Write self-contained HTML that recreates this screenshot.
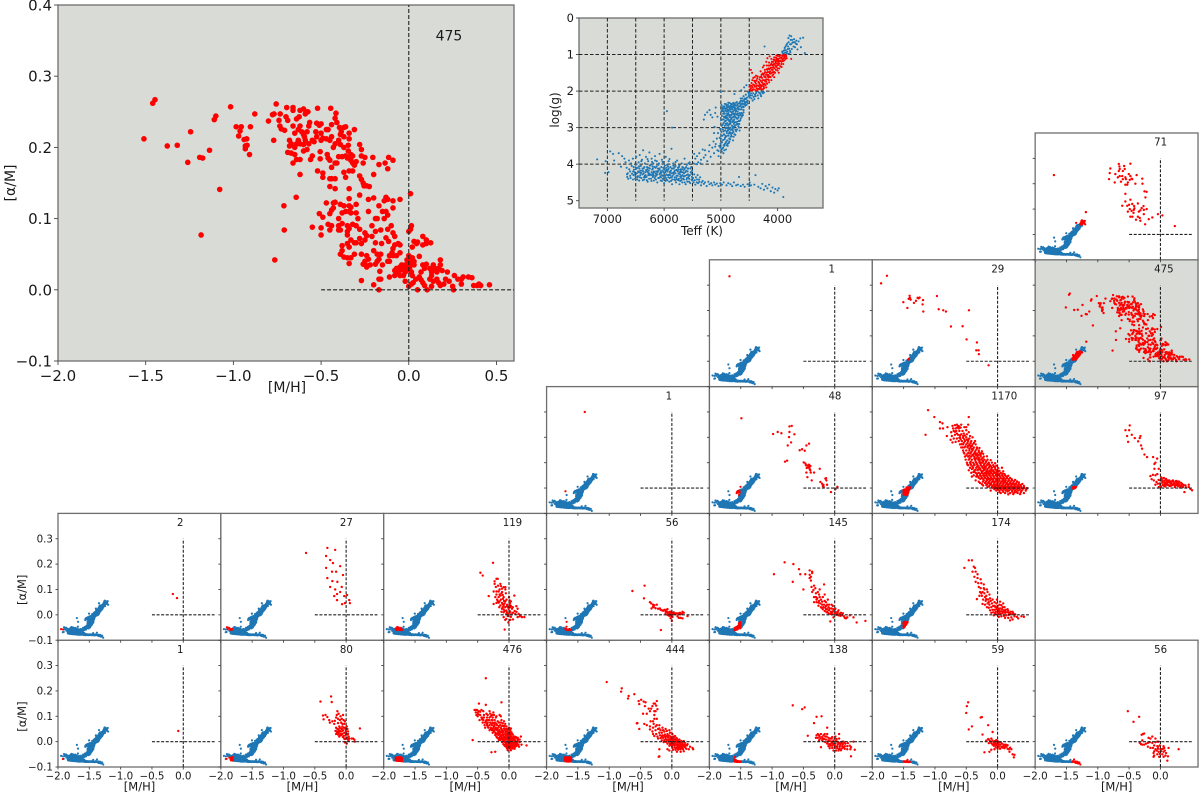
<!DOCTYPE html>
<html lang="en">
<head>
<meta charset="utf-8">
<title>Stellar abundance grid by Teff and log(g)</title>
<style>
html,body{margin:0;padding:0;background:#fff;}
svg{display:block;font-family:"DejaVu Sans","Liberation Sans",sans-serif;filter:blur(0.35px);}
</style>
</head>
<body>
<svg id="figure" width="1200" height="792" viewBox="0 0 1200 792" xmlns="http://www.w3.org/2000/svg"></svg>
<script>
// ---- Hertzsprung-Russell sample: [Teff (K), log(g)] ----
const hrDwarfs = [[7180,3.87],[7030,3.92],[7040,4.24],[6980,4.22],[6950,3.65],[6900,3.72],[6880,3.9],[6800,3.7],[6740,3.78],[6760,4.07],[6700,3.85],[6680,3.95],[6660,4.1],[6650,4.35],[6640,4.25],[6620,3.9],[6600,4.2],[6590,4.38],[6570,4.05],[6550,3.85],[6540,4.3],[6530,4.15],[6510,4.4],[6500,4.02],[6490,3.8],[6480,4.25],[6470,4.1],[6460,4.33],[6450,3.95],[6440,4.45],[6430,3.75],[6420,4.18],[6410,4.05],[6400,4.38],[6390,3.88],[6380,4.28],[6370,3.62],[6360,4.12],[6350,4.42],[6340,3.98],[6330,4.22],[6320,3.8],[6310,4.35],[6300,4.08],[6290,4.48],[6280,3.92],[6270,4.18],[6260,3.68],[6250,4.3],[6240,4.02],[6230,4.4],[6220,3.85],[6210,4.15],[6200,4.25],[6190,3.98],[6180,4.45],[6170,4.08],[6160,3.78],[6150,4.33],[6140,4.2],[6130,3.92],[6120,4.5],[6110,4.12],[6100,4.02],[6090,4.38],[6080,3.72],[6070,4.25],[6060,4.45],[6050,4.08],[6040,3.88],[6030,4.18],[6020,4.32],[6010,3.98],[6000,4.52],[5990,4.12],[5980,4.22],[5970,3.8],[5960,4.42],[5950,4.02],[5940,4.3],[5930,4.15],[5920,3.92],[5910,4.48],[5900,4.22],[5890,4.08],[5880,4.36],[5870,3.58],[5860,4.55],[5850,4.12],[5840,3.98],[5830,4.28],[5820,4.42],[5810,4.18],[5800,4.05],[5790,4.5],[5780,4.32],[5770,3.9],[5760,4.2],[5750,4.44],[5740,4.08],[5730,4.55],[5720,4.28],[5710,4.14],[5700,4.38],[5690,3.98],[5680,4.5],[5670,4.22],[5660,4.1],[5650,4.42],[5640,3.85],[5630,4.32],[5620,4.55],[5610,4.18],[5600,4.02],[5590,4.48],[5580,4.28],[5570,4.12],[5560,4.4],[5550,3.95],[5540,4.52],[5530,4.22],[5520,4.08],[5510,4.35],[5500,4.45],[6150,4.1],[6220,4.22],[6060,4.2],[5980,4.32],[5920,4.12],[6120,4.28],[6300,4.2],[6380,4.12],[5830,4.12],[5870,4.25],[5760,4.32],[5700,4.22],[6000,4.15],[6040,4.3],[6180,4.2],[6250,4.12],[5940,4.2],[5880,4.18],[5800,4.25],[5650,4.25],[5600,4.3],[6100,4.18],[6200,4.35],[6280,4.3],[6340,4.32],[6420,4.3],[5960,4.1],[5900,4.38],[5740,4.4],[5560,4.32]];
const hrDwarfsMore = [[6655,4.28],[6632,4.4],[6615,4.14],[6598,4.32],[6582,3.98],[6566,4.26],[6548,4.42],[6535,4.08],[6518,4.22],[6502,4.34],[6488,4.12],[6475,4.42],[6458,4.2],[6442,4.06],[6428,4.36],[6415,4.24],[6402,3.92],[6388,4.18],[6374,4.44],[6362,4.26],[6348,4.08],[6332,4.36],[6318,4.16],[6304,4.44],[6292,3.86],[6278,4.24],[6264,4.4],[6252,4.04],[6238,4.28],[6224,4.46],[6212,3.94],[6198,4.12],[6184,4.32],[6172,4.22],[6158,3.9],[6144,4.42],[6132,4.06],[6118,4.2],[6104,4.38],[6092,3.98],[6078,4.14],[6066,4.34],[6052,4.24],[6038,4.46],[6026,3.94],[6012,4.22],[5998,4.36],[5986,4.04],[5972,4.18],[5958,4.28],[5944,4.44],[5932,4.06],[5918,4.3],[5906,3.86],[5892,4.2],[5878,4.46],[5866,4.12],[5852,4.32],[5838,4.04],[5826,4.22],[5812,4.36],[5798,3.94],[5786,4.16],[5772,4.42],[5758,4.1],[5746,4.26],[5732,4.04],[5718,4.46],[5706,4.18],[5692,4.32],[5678,4.08],[5666,4.4],[5652,4.16],[5638,4.5],[5626,4.22],[5612,4.08],[5598,4.38],[5586,4.2],[5572,3.98],[5558,4.48],[5546,4.3],[5532,4.12],[5518,4.42],[5506,4.18],[6405,4.24],[6295,4.14],[6188,4.28],[6076,4.28],[5968,4.38],[5855,4.42],[5745,4.15],[5635,4.12],[6520,4.28],[6365,4.2],[6215,4.3],[6115,4.22],[6015,4.1],[5905,4.28],[5815,4.08],[5715,4.34],[5605,4.42],[6470,4.36],[6325,4.3],[6165,4.38],[6055,4.36],[5955,4.16],[5845,4.24],[5775,4.16],[5685,4.14],[5575,4.36],[6545,4.2],[6435,4.12],[6275,4.1],[6135,4.3],[5995,4.24],[5895,4.3],[5785,4.38],[5675,4.3],[6265,4.26],[6085,4.12],[5925,4.36],[5725,4.22],[5585,4.12],[6355,4.36],[6205,4.06],[6025,4.4],[5865,4.36],[5695,4.44],[6445,4.22],[6145,4.26],[5975,4.46],[5805,4.44],[5655,4.34],[5515,4.26],[5490,4.38],[5470,4.28],[5460,4.44],[5440,4.36],[5425,4.5],[5410,4.3],[5385,4.42],[5365,4.36],[5340,4.5]];
const hrDwarfTail = [[5480,4.5],[5450,4.56],[5420,4.42],[5400,4.52],[5380,4.48],[5350,4.58],[5320,4.46],[5300,4.54],[5280,4.5],[5250,4.6],[5220,4.48],[5200,4.55],[5170,4.52],[5150,4.58],[5120,4.5],[5100,4.56],[5070,4.53],[5040,4.6],[5010,4.52],[4980,4.56],[4950,4.5],[4900,4.58],[4870,4.52],[4830,4.55],[4800,4.6],[4770,4.5],[4730,4.58],[4700,4.56],[4680,4.35],[4650,4.6],[4610,4.56],[4580,4.62],[4530,4.55],[4500,4.6],[4490,4.5],[4470,4.58],[4410,4.56],[4390,4.3],[4340,4.62],[4300,4.66],[4270,4.54],[4240,4.7],[4210,4.6],[4180,4.66],[4150,4.56],[4120,4.74],[4090,4.64],[4060,4.78],[4040,4.68],[4000,4.72],[3980,4.66],[3900,4.9]];
const hrSubgiants = [[5470,3.72],[5450,3.85],[5420,3.78],[5400,3.95],[5380,3.7],[5350,3.88],[5320,3.6],[5300,3.82],[5270,3.75],[5240,3.92],[5210,3.65],[5180,3.8],[5150,3.55],[5120,3.7],[5090,3.45],[5060,3.62],[5040,3.78],[5020,3.5],[4990,3.6],[5480,3.98],[5430,4.0],[5360,3.98],[5280,3.62],[5200,3.48],[5130,3.38],[5100,3.52],[5070,3.3],[5050,3.15],[5120,3.15],[5110,2.98],[5180,2.65],[5200,2.52],[5240,2.58],[5280,2.65],[5300,2.78],[5150,2.72],[5100,2.6],[5090,2.45],[5060,2.7],[5950,2.55],[5860,3.0]];
const hrBranch = [[5010,3.55],[5000,3.3],[4990,3.12],[4985,2.95],[4980,3.4],[4975,2.78],[4970,3.22],[4965,3.05],[4960,2.62],[4955,2.88],[4950,3.48],[4945,3.18],[4940,2.72],[4935,3.32],[4930,2.95],[4925,3.08],[4920,2.82],[4915,3.42],[4910,3.25],[4905,2.68],[4900,3.0],[4895,3.15],[4890,2.88],[4885,3.35],[4880,2.75],[4875,3.08],[4870,2.95],[4865,3.22],[4860,2.65],[4855,2.82],[4850,3.38],[4845,3.12],[4840,3.0],[4835,2.72],[4830,2.9],[4825,3.25],[4820,2.78],[4815,3.05],[4810,2.65],[4805,2.95],[4800,3.15],[4795,2.85],[4790,2.72],[4785,3.35],[4780,3.02],[4775,2.62],[4770,2.9],[4765,2.78],[4760,3.18],[4755,2.68],[4750,2.95],[4740,2.85],[4730,3.1],[4720,2.75],[4710,2.65],[4700,2.9],[4690,2.72],[4680,3.0],[4670,2.82],[4660,2.65],[4650,2.75],[4640,2.6],[4960,3.55],[4940,3.62],[4910,3.6],[4880,3.5],[4990,2.55],[4970,2.52],[4930,2.62],[4890,2.62],[4850,2.7],[4950,2.78],[4900,2.8],[4860,2.92],[4830,3.15],[4790,3.08],[4920,3.22],[4880,3.22],[4840,2.82]];
const hrBranchMore = [[5030,3.5],[5020,3.28],[5012,3.04],[5005,3.44],[4998,2.8],[4992,3.22],[4982,2.68],[4976,3.58],[4968,2.92],[4962,3.34],[4952,3.1],[4946,2.7],[4938,3.5],[4932,2.84],[4926,3.28],[4918,3.02],[4912,2.74],[4904,3.38],[4898,2.92],[4892,3.1],[4884,2.66],[4878,3.44],[4872,3.02],[4866,2.78],[4858,3.16],[4852,3.3],[4846,2.88],[4838,2.66],[4832,3.06],[4826,2.84],[4818,3.2],[4812,2.74],[4804,3.06],[4798,2.62],[4792,2.96],[4784,2.8],[4778,3.12],[4772,2.7],[4764,2.98],[4758,2.86],[4752,2.62],[4744,3.06],[4736,2.72],[4728,2.92],[4722,2.64],[4714,2.84],[4706,2.76],[4698,2.62],[4692,2.96],[4684,2.68],[4676,2.9],[4668,2.6],[4658,2.8],[4648,2.66],[4632,2.7],[4622,2.62],[4612,2.66],[4600,2.58],[4925,2.7],[4895,2.72],[4865,2.6],[4835,2.8],[4805,2.72],[4775,2.82],[4745,2.72],[4715,2.9],[4685,2.82],[4945,2.62],[4915,2.9],[4885,3.02],[4855,3.04],[4825,2.66],[4795,3.0],[4765,2.64],[4735,2.62],[5040,3.64],[4985,3.66],[4955,3.7],[4930,3.45],[4895,3.48],[4860,3.42],[4835,3.32],[4810,3.24],[4775,3.25],[4745,3.2],[4715,3.05],[4670,3.08]];
const hrClump = [[4990,2.38],[4975,2.5],[4960,2.42],[4945,2.56],[4930,2.35],[4915,2.48],[4900,2.4],[4885,2.55],[4870,2.44],[4855,2.32],[4840,2.5],[4825,2.4],[4810,2.58],[4795,2.45],[4780,2.32],[4765,2.52],[4750,2.38],[4735,2.48],[4720,2.3],[4705,2.56],[4690,2.42],[4675,2.34],[4660,2.5],[4645,2.26],[4630,2.44],[4615,2.34],[4600,2.52],[4585,2.24],[4570,2.4],[4555,2.3],[4540,2.18],[4525,2.34],[4510,2.14],[4980,2.46],[4950,2.48],[4920,2.52],[4890,2.44],[4860,2.54],[4830,2.34],[4800,2.5],[4770,2.4],[4740,2.56],[4710,2.38],[4680,2.5],[4650,2.38],[4620,2.28],[4590,2.36],[4560,2.22],[4530,2.26],[4500,2.1],[4940,2.42],[4910,2.36],[4880,2.5],[4850,2.42],[4820,2.5],[4790,2.36],[4760,2.46],[4730,2.32],[4700,2.46],[4670,2.42],[4640,2.34],[4610,2.42],[4580,2.3],[4550,2.38],[4965,2.55],[4935,2.45],[4905,2.56],[4875,2.38],[4845,2.46],[4815,2.44],[4785,2.56],[4755,2.44],[4725,2.4],[4695,2.34],[4665,2.3],[4635,2.5],[4605,2.26],[4575,2.2],[4690,2.5],[4720,2.48],[4750,2.5],[4780,2.44],[4810,2.36],[4840,2.42],[4870,2.52],[4900,2.48],[4660,2.42],[4630,2.36],[4600,2.44],[4570,2.34],[4540,2.3],[4760,2.34],[4730,2.54],[4800,2.42],[4830,2.56],[4870,2.32],[4650,2.2],[4620,2.2],[4520,2.02],[4560,2.1],[4600,2.14],[4640,1.98],[4590,1.9],[4550,1.84],[4480,2.12],[4460,2.2],[4440,2.26],[4420,2.16],[4400,2.1],[4380,2.06],[4350,2.12],[4330,2.04],[4300,2.1],[4280,2.02],[4260,2.06],[5000,2.02],[4760,2.08]];
const hrGiants = [[4490,1.96],[4480,1.85],[4470,1.92],[4460,1.78],[4450,1.98],[4440,1.9],[4430,1.82],[4420,1.95],[4410,1.72],[4400,1.88],[4390,1.98],[4380,1.8],[4370,1.92],[4360,1.65],[4350,1.85],[4340,1.75],[4330,1.95],[4320,1.68],[4310,1.82],[4300,1.92],[4290,1.6],[4280,1.75],[4270,1.85],[4260,1.95],[4250,1.55],[4240,1.7],[4230,1.8],[4220,1.48],[4210,1.62],[4200,1.75],[4190,1.4],[4180,1.55],[4170,1.68],[4160,1.3],[4150,1.48],[4140,1.6],[4130,1.38],[4120,1.52],[4110,1.25],[4100,1.42],[4090,1.58],[4080,1.2],[4070,1.35],[4060,1.48],[4050,1.15],[4040,1.3],[4030,1.42],[4020,1.1],[4010,1.25],[4000,1.38],[3990,1.12],[3980,1.28],[3970,1.04],[3960,1.18],[3950,1.32],[3940,1.08],[3930,1.2],[3920,1.02],[3910,1.14],[3900,1.26],[3890,1.04],[3880,1.16],[3870,1.03],[3860,1.12],[3850,1.05],[3840,1.1],[4470,1.42],[4450,1.5],[4430,1.64],[4380,1.58],[4350,1.6],[4300,1.46],[4260,1.35],[4240,1.3],[4180,1.1],[4200,1.2],[4140,1.05],[4230,0.78],[3760,1.12],[4160,1.62],[4110,1.7],[4060,1.62],[3980,1.5],[4380,1.72],[4340,1.85],[4300,1.72],[4260,1.7],[4220,1.62],[4180,1.42],[4140,1.3],[4100,1.2],[4060,1.08],[4020,1.02],[3990,1.2],[4280,1.55],[4240,1.52],[4200,1.5],[4160,1.38],[4120,1.28],[4080,1.3],[4040,1.18],[4000,1.12]];
const hrGiantsMore = [[4495,1.88],[4475,1.98],[4455,1.86],[4435,1.96],[4415,1.84],[4395,1.76],[4375,1.86],[4365,1.98],[4345,1.94],[4325,1.78],[4315,1.9],[4295,1.84],[4285,1.96],[4275,1.64],[4265,1.78],[4245,1.88],[4235,1.6],[4225,1.72],[4215,1.84],[4205,1.56],[4195,1.68],[4185,1.8],[4175,1.48],[4165,1.56],[4155,1.7],[4145,1.4],[4135,1.52],[4125,1.62],[4115,1.36],[4105,1.5],[4095,1.28],[4085,1.42],[4075,1.54],[4065,1.26],[4055,1.38],[4045,1.5],[4035,1.22],[4025,1.34],[4015,1.14],[4005,1.3],[3995,1.04],[3985,1.16],[3975,1.24],[3965,1.1],[3955,1.02],[3945,1.16],[3935,1.26],[3925,1.1],[3915,1.04],[3905,1.18],[3895,1.1],[3875,1.08],[3855,1.02],[4310,1.62],[4265,1.52],[4225,1.42],[4190,1.3],[4150,1.22],[4110,1.12],[4070,1.14],[4030,1.08],[4445,1.7],[4405,1.62],[4370,1.7],[4330,1.86],[4290,1.88],[4250,1.82],[4210,1.7],[4170,1.6],[4130,1.46],[4090,1.36],[4050,1.26],[4010,1.18],[4320,1.94],[4240,1.92],[4200,1.9],[4150,1.76],[4080,1.48],[4000,1.44],[3970,1.38],[3930,1.34],[4510,2.06],[4490,2.18],[4470,2.06],[4450,2.12],[4430,2.06],[4410,2.22],[4390,2.14],[4370,2.02],[4340,2.2],[4310,2.06],[4290,2.14],[4270,2.02],[4240,2.04]];
const hrTip = [[3900,0.98],[3880,0.88],[3860,0.78],[3850,0.95],[3830,0.7],[3820,0.85],[3810,0.55],[3800,0.98],[3790,0.48],[3780,0.72],[3770,0.6],[3760,0.5],[3750,0.85],[3740,0.68],[3720,0.78],[3710,0.58],[3700,0.66],[3680,0.7],[3660,0.72],[3650,0.86],[3630,0.64],[3600,0.56],[3590,0.8],[3550,0.54],[3520,0.96],[3890,1.0],[3920,0.92],[3870,0.95],[3830,0.92],[3780,0.9],[3910,0.96],[3895,0.9],[3875,0.82],[3855,0.88],[3845,0.74],[3835,0.98],[3815,0.78],[3805,0.66],[3795,0.84],[3775,0.94],[3765,0.72],[3745,0.6],[3725,0.66],[3695,0.8],[3670,0.62]];
const hrSample = hrDwarfs.concat(hrDwarfsMore, hrDwarfTail, hrSubgiants, hrBranch, hrBranchMore, hrClump, hrGiants, hrGiantsMore, hrTip);

// ---- [M/H], [alpha/M] stars per Teff / log(g) bin ----
const stars475 = [[-1.51,.212],[-1.46,.262],[-1.447,.267],[-1.377,.202],[-1.32,.203],[-1.244,.222],[-1.26,.179],[-1.192,.186],[-1.175,.185],[-1.136,.196],[-1.109,.239],[-1.10,.244],[-1.078,.141],[-1.184,.077],[-1.016,.257],[-.984,.229],[-.955,.229],[-.962,.223],[-.97,.216],[-.939,.211],[-.924,.212],[-.932,.202],[-.922,.203],[-.932,.198],[-.908,.19],[-.903,.229],[-.878,.247],[-.80,.237],[-.777,.246],[-.768,.247],[-.756,.261],[-.733,.247],[-.696,.256],[-.70,.243],[-.69,.238],[-.74,.238],[-.735,.23],[-.727,.226],[-.708,.224],[-.77,.21],[-.764,.042],[-.712,.118],[-.71,.084],[-.642,.13],
[-.66,.256],[-.66,.252],[-.62,.252],[-.6,.254],[-.585,.25],[-.59,.247],[-.575,.25],[-.52,.255],[-.445,.255],[-.415,.248],[-.42,.241],[-.41,.235],[-.395,.228],[-.385,.222],[-.37,.228],[-.36,.229],[-.31,.225],[-.34,.22],[-.64,.24],[-.625,.243],[-.565,.235],[-.57,.23],[-.525,.234],[-.51,.231],[-.5,.233],[-.44,.232],[-.46,.225],[-.47,.225],[-.5,.22],[-.53,.222],[-.525,.215],[-.58,.222],[-.61,.222],[-.6,.218],[-.62,.23],[-.66,.23],[-.65,.22],[-.63,.225],[-.595,.215],[-.59,.21],[-.63,.21],[-.68,.21],[-.67,.205],[-.64,.205],[-.62,.205],[-.6,.204],[-.57,.205],[-.55,.21],[-.54,.208],[-.5,.21],[-.49,.213],[-.47,.212],[-.45,.21],[-.44,.215],[-.4,.21],[-.39,.218],[-.37,.215],[-.34,.212],[-.345,.203],[-.37,.2],[-.39,.204],[-.43,.2],[-.42,.205],[-.345,.195],[-.65,.2],[-.68,.202],[-.67,.192],[-.69,.193],[-.65,.19],[-.64,.183],[-.66,.178],[-.62,.183],[-.6,.195],[-.58,.197],[-.55,.188],[-.56,.183],[-.505,.194],[-.505,.184],[-.465,.19],[-.46,.185],[-.45,.182],[-.44,.172],[-.42,.178],[-.41,.178],[-.4,.187],[-.38,.187],[-.36,.188],[-.35,.185],[-.33,.19],[-.32,.188],[-.3,.18],[-.32,.178],[-.33,.182],[-.27,.188],[-.25,.186],[-.26,.178],[-.31,.175],[-.205,.186],[-.28,.204],[-.27,.197],[-.115,.186],[-.09,.182],[-.17,.176],[-.135,.178],[-.12,.17],[-.2,.162],[-.52,.167],[-.49,.164],[-.49,.158],[-.62,.162],[-.45,.156],[-.44,.156],[-.42,.156],[-.37,.165],[-.36,.158],[-.34,.167],[-.32,.167],[-.28,.16],[-.27,.155],[-.26,.15],[-.255,.146],[-.24,.146],[-.225,.145],[-.45,.145],[-.42,.142],[-.34,.142],[.01,.135],[-.34,.128],[-.28,.133],[-.23,.127],[-.2,.129],
[-.43,.122],[-.42,.123],[-.43,.115],[-.47,.122],[-.44,.112],[-.39,.12],[-.37,.118],[-.34,.118],[-.33,.116],[-.3,.12],[-.34,.11],[-.36,.11],[-.38,.108],[-.33,.108],[-.3,.108],[-.51,.107],[-.49,.102],[-.45,.107],[-.4,.1],[-.38,.093],[-.4,.09],[-.35,.09],[-.32,.092],[-.3,.09],[-.29,.1],[-.23,.11],[-.15,.11],[-.18,.1],[-.19,.1],[-.14,.1],[-.13,.11],[-.12,.105],[-.46,.092],[-.44,.09],[-.45,.084],[-.55,.088],[-.5,.087],[-.5,.077],[-.4,.084],[-.39,.084],[-.35,.082],[-.34,.086],[-.35,.077],[-.28,.085],[-.25,.08],[-.21,.09],[-.19,.082],[-.16,.084],[-.12,.085],[-.1,.09],[-.09,.08],[-.13,.073],[-.08,.075],[-.28,.072],[-.27,.065],[-.3,.066],[-.33,.07],[-.34,.06],[-.35,.065],[-.31,.066],[-.25,.07],[-.24,.076],[-.21,.075],[-.19,.066],[-.155,.065],[-.115,.068],[-.05,.063],[-.06,.065],[-.08,.063],[-.09,.058],[-.095,.052],[-.05,.052],[-.07,.048],[-.11,.048],[-.38,.062],[-.38,.055],[-.39,.05],[-.37,.046],[-.35,.045],[-.33,.045],[-.31,.05],[-.34,.037],[-.27,.05],[-.24,.048],[-.25,.04],[-.22,.035],[-.23,.043],[-.2,.055],[-.18,.05],[-.16,.05],[-.17,.043],[-.15,.035],[-.12,.04],[-.11,.04],[-.09,.048],[-.25,.036],[-.24,.032],[-.26,.036],[-.18,.04],[-.19,.036],[-.12,.127],[-.13,.13],[-.14,.125],[-.09,.125],[-.05,.127],[-.09,.115],[-.17,.118],[.01,.085],[0,.082],[.015,.09],
[-.17,0],[-.2,.007],[-.27,.013],[-.16,.015],[-.17,.015],[-.11,.018],[-.165,.026],[-.08,.02],[-.08,.027],[-.07,.03],[-.065,.024],[-.05,.032],[-.06,.025],[-.05,.02],[-.04,.028],[-.03,.03],[-.02,.025],[-.03,.02],[-.04,.035],[-.02,.035],[-.01,.032],[0,.04],[-.01,.042],[0,.048],[.01,.045],[.02,.045],[.03,.04],[.01,.035],[.005,.03],[.015,.025],[.03,.035],[-.02,.012],[0,.028],[.02,.02],[.04,.015],[.06,.047],[.06,.018],[.07,.025],[.08,.035],[.07,.014],[.1,.036],[.09,.03],[.12,.03],[.13,.025],[.14,.035],[.13,.02],[.15,.03],[.16,.025],[.14,.012],[.16,.015],[.17,.03],[.18,.035],[.18,.042],[.19,.027],[.12,.015],[.13,.005],[.08,.01],[.09,.006],[.105,0],[.05,0],[0,.005],[.015,.008],[.025,.01],[.17,.01],[.18,.006],[.2,.008],[.21,.015],[.22,.025],[.23,.012],[.25,.005],[.255,0],[.26,.02],[.28,.015],[.3,.015],[.31,.018],[.3,.008],[.34,.018],[.36,.017],[.37,.006],[.39,.006],[.4,.008],[.41,.006],[.46,.007],[.02,.06],[.05,.067],[.03,.068],[.045,.065],[.08,.075],[.1,.07],[.1,.065],[.125,.066],[.08,.063]];
const stars71 = [[-1.70,.234],[-1.19,.088],[.23,.033],[.03,.075],[-.04,.08],[-.13,.067],[-.186,.06],[-.245,.04],[-.32,.054],[-.265,.08],[-.22,.1],[-.265,.097],[-.30,.104],[-.36,.07],[-.345,.09],[-.425,.097],[-.48,.07],[-.447,.07],[-.53,.113],[-.61,.113],[-.56,.13],[-.48,.137],[-.45,.12],[-.415,.103],[-.49,.1],[-.56,.16],[-.24,.146],[-.255,.17],[-.22,.168],[-.287,.2],[-.29,.22],[-.38,.234],[-.4,.2],[-.45,.218],[-.48,.23],[-.49,.215],[-.53,.196],[-.56,.196],[-.55,.218],[-.505,.238],[-.56,.225],[-.57,.258],[-.48,.279],[-.6,.25],[-.65,.258],[-.665,.278],[-.655,.268],[-.665,.25],[-.72,.238],[-.73,.205],[-.8,.26],[-.81,.242],[-.82,.218],[-.65,.23],[-.61,.23],[-.68,.225],[-.63,.208],[-.52,.205],[-.6,.218],[-.58,.27],[-.5,.117],[-.43,.085],[-.39,.058],[-.36,.122],[-.32,.095],[-.52,.09],[-.46,.093],[-.33,.065],[-.42,.112],[-.27,.112],[-.46,.22]];
const stars29 = [[-1.86,.307],[-1.766,.337],[-1.505,.233],[-1.44,.21],[-1.404,.258],[-1.42,.246],[-1.388,.243],[-1.335,.23],[-1.303,.238],[-1.277,.25],[-1.245,.251],[-1.19,.241],[-1.197,.224],[-1.186,.196],[-.968,.257],[-.94,.205],[-.867,.201],[-.824,.196],[-.745,.137],[-.558,.138],[-.457,.201],[-.495,.086],[-.33,.074],[-.34,.043],[-.303,.043],[-.298,.028],[-.144,-.016],[-1.4,.25],[-1.26,.248]];
const stars48 = [[-1.49,.275],[-.984,.213],[-.91,.221],[-.851,.216],[-.723,.243],[-.686,.245],[-.723,.221],[-.729,.201],[-.644,.212],[-.697,.18],[-.75,.168],[-.559,.149],[-.521,.153],[-.479,.147],[-.452,.168],[-.41,.175],[-.793,.104],[-.76,.108],[-.495,.101],[-.468,.097],[-.441,.089],[-.415,.087],[-.388,.087],[-.404,.079],[-.399,.074],[-.447,.079],[-.452,.061],[-.436,.043],[-.383,.061],[-.33,.061],[-.239,.076],[-.367,.03],[-.229,.024],[-.202,.017],[-.149,.037],[-.133,.03],[-.122,.013],[-.176,.004],[-.059,-.016],[.011,-.005],[.043,.005],[-.138,.039],[-.19,.008],[-.42,.082],[-.39,.07],[-.41,.092],[-.46,.09],[-.18,.012]];
const stars97 = [[-.49,.247],[-.558,.228],[-.5,.228],[-.457,.21],[-.532,.205],[-.41,.197],[-.319,.205],[-.33,.197],[-.516,.182],[-.356,.184],[-.309,.168],[-.293,.155],[-.255,.132],[-.213,.122],[-.117,.122],[-.053,.116],[-.08,.1],[-.096,.095],[-.096,.076],[-.027,.076],[-.16,.047],[-.08,.05],[-.106,.03],[-.064,.024],[-.08,.013],[-.043,.017],[0,.03],[.027,.037],[.064,.03],[.096,.024],[.027,.021],[.053,.014],[.106,.013],[.133,.024],[.16,.017],[.186,.026],[.213,.017],[.24,.021],[.266,.013],[.293,.017],[.319,.01],[.346,.016],[.362,.004],[.383,-.016],[.452,.004],[.452,.013],[.505,-.009],[0,.01],[-.027,.004],[.012,.042],[.04,.012],[.075,.02],[.09,.036],[.12,.03],[.145,.008],[.17,.026],[.2,.03],[.225,.012],[.25,.028],[.28,.008],[.3,.025],[.33,.02],[.35,.006],[-.01,.018],[.01,.005],[.035,.026],[.055,.04],[.08,.006],[.11,.02],[.14,.03],[.19,.012],[.23,.004],[.27,.022],[.31,.002],[.4,.01],[-.12,.052],[-.05,.055],[.02,.03],[.06,.008],[.1,.03],[.125,.012],[.165,.008],[.21,.026],[.245,.01],[.28,.026],[.335,.008],[.41,.002],[.48,-.004],[-.14,.035],[-.03,.032],[.05,.025],[.085,.014],[.15,.022],[.175,.018],[.26,.018],[.3,.012],[.37,.012]];
const stars2 = [[-.166,.082],[-.10,.066]];
const stars27 = [[-.64,.244],[-.3,.264],[-.175,.256],[-.32,.232],[-.255,.216],[-.21,.204],[-.095,.192],[-.32,.185],[-.225,.17],[-.16,.17],[-.05,.157],[-.30,.145],[-.22,.133],[-.14,.13],[-.07,.11],[-.255,.11],[-.175,.1],[-.145,.082],[-.095,.09],[-.03,.074],[.015,.078],[.05,.058],[-.065,.042],[-.145,.058],[-.02,.046],[.06,.046],[-.19,.074]];
const stars119 = [[-.255,.205],[-.457,.166],[-.42,.155],[-.069,-.058],[-.2,.142],[-.18,.142],[-.23,.132],[-.229,.122],[-.138,.122],[-.128,.113],[-.085,.109],[-.058,.109],[-.112,.103],[-.058,.1],[-.245,.092],[-.2,.092],[-.165,.092],[-.324,.074],[.085,.076],[-.218,.07],[-.165,.07],[-.138,.076],[-.085,.07],[-.096,.063],[-.19,.06],[-.245,.043],[-.2,.047],[-.15,.053],[-.112,.047],[-.058,.053],[.01,.057],[.03,.053],[-.138,.037],[-.085,.037],[-.032,.034],[.01,.04],[-.112,.024],[-.085,.021],[-.043,.017],[-.005,.024],[.048,.024],[.117,.034],[.138,.024],[-.085,.01],[-.043,.004],[-.005,.004],[.021,.01],[.064,.008],[.1,.004],[.154,.004],[.18,-.003],[.207,-.009],[.245,-.009],[-.085,-.009],[-.043,-.016],[.064,-.018],[.138,-.009],[-.15,.08],[-.12,.085],[-.18,.055],[-.13,.06],[-.07,.045],[-.1,.03],[-.06,.03],[-.03,.04],[.02,.03],[-.07,.015],[-.03,.01],[.01,.015],[.04,.002],[-.02,-.005],[-.1,.042],[-.155,.03],[-.12,.012],[-.08,.055],[-.165,.048],[-.2,.08],[-.1,.078],[.03,.035],[.06,.03],[.09,.015],[-.05,.085],[-.11,.09],[-.15,.1],[-.175,.115],[-.21,.11],[.02,-.02],[.03,-.008],[.12,.012],[.17,-.006],[-.01,-.03],[-.06,-.02],[-.04,.06],[0,.07],[.015,.045],[-.015,.03]];
const stars56b = [[-.63,.094],[-.435,.115],[-.445,.065],[-.35,.05],[-.33,.045],[-.3,.04],[-.28,.038],[-.29,.03],[-.24,.04],[-.325,.025],[-.26,.026],[-.19,.025],[-.16,.018],[-.12,.02],[-.09,.02],[-.07,.022],[-.08,.012],[-.05,.01],[-.03,.012],[-.015,.007],[.015,.008],[0,0],[-.07,0],[-.05,-.003],[-.02,.004],[.02,.004],[.05,.006],[.08,.006],[.11,.006],[.14,.002],[.17,.012],[.16,.004],[.09,-.006],[.11,-.012],[.14,-.012],[.17,-.014],[.25,-.005],[-.175,-.06],[0,-.024],[-.02,-.013],[-.03,-.004],[.01,-.008],[-.1,.014],[-.14,.016],[-.18,.02],[-.22,.024],[-.3,.032],[-.04,.004],[-.01,-.003],[.03,.01],[.06,.002],[.19,.008],[.13,.008],[-.06,.006],[-.1,.006],[-.02,.012]];
const stars145 = [[-.97,.16],[-.8,.207],[-.66,.2],[-.57,.18],[-.55,.16],[-.47,.16],[-.4,.175],[-.36,.17],[-.4,.158],[-.36,.165],[-.67,.13],[-.5,.1],[-.38,.15],[-.4,.145],[-.38,.135],[-.33,.115],[-.31,.105],[-.37,.11],[-.3,.085],[-.36,.09],[-.19,.07],[-.3,.07],[-.28,.065],[-.25,.055],[-.22,.06],[-.29,.05],[-.26,.048],[-.23,.045],[-.2,.04],[-.16,.055],[-.11,.06],[-.14,.05],[-.17,.04],[-.14,.035],[-.12,.04],[-.1,.03],[-.08,.025],[-.05,.04],[-.03,.035],[-.15,.028],[-.12,.022],[-.09,.018],[-.06,.012],[-.03,.014],[0,.02],[.02,.01],[.05,.012],[.08,.004],[.1,.008],[.12,-.002],[.15,-.006],[.18,-.014],[.2,-.01],[.24,-.002],[.3,-.01],[.35,-.03],[.49,-.024],[-.07,-.026],[-.02,-.01],[0,.005],[.03,0],[-.05,.002],[-.27,.09],[-.29,.06],[-.33,.05],[-.24,.07],[-.26,.036],[-.21,.028],[-.19,.022],[-.16,.015],[-.13,.01],[-.1,.006],[-.07,.004],[-.12,.012],[.04,.006],[.06,-.002],[.09,.006],[.13,.006],[-.18,.03],[-.25,.08],[-.16,.08],[-.04,.008],[-.02,.022],[.01,.024],[.06,.018],[.09,-.004],[.16,-.012],[-.33,.07],[-.2,.052],[-.09,.04],[-.05,.025],[-.34,.098],[-.24,.1],[-.17,.12],[-.22,.03],[-.14,.022]];
const stars174 = [[-.46,.215],[-.41,.215],[-.53,.185],[-.38,.19],[-.36,.185],[-.4,.17],[-.35,.17],[-.32,.16],[-.37,.15],[-.32,.145],[-.27,.14],[-.35,.13],[-.31,.125],[-.26,.125],[-.22,.12],[-.3,.11],[-.27,.105],[-.22,.105],[-.17,.1],[-.28,.09],[-.24,.09],[-.21,.085],[-.16,.09],[-.25,.075],[-.2,.07],[-.18,.075],[-.13,.08],[-.33,.062],[-.23,.06],[-.19,.055],[-.15,.06],[-.11,.055],[-.24,.043],[-.2,.04],[-.16,.045],[-.13,.04],[-.09,.045],[-.05,.05],[-.02,.045],[-.17,.03],[-.14,.028],[-.1,.03],[-.07,.035],[-.04,.032],[0,.035],[.03,.04],[.06,.038],[-.12,.018],[-.08,.02],[-.05,.02],[-.02,.022],[.01,.025],[.04,.025],[.08,.03],[.11,.03],[-.1,.008],[-.07,.01],[-.03,.012],[0,.012],[.03,.015],[.06,.014],[.1,.018],[.13,.02],[.16,.022],[-.06,-.002],[-.02,.002],[.01,.004],[.05,.004],[.08,.006],[.12,.008],[.15,.01],[.18,.008],[.21,.012],[.02,-.008],[.06,-.006],[.1,-.004],[.14,-.002],[.18,0],[.22,.002],[.25,.006],[.28,.002],[.12,-.012],[.17,-.012],[.22,-.01],[.27,-.006],[.31,-.008],[.38,-.006],[.42,-.008],[.24,-.018],[.33,-.014],[.2,-.022],[-.01,.06],[.04,.052],[.09,.045],[-.18,.062],[-.12,.065],[-.08,.06],[-.02,.03],[.02,.018],[.07,.022],[.12,.014],[.17,.016],[.2,.004],[-.04,.006],[.03,.008],[.09,.012],[.24,.012],[-.05,.035],[-.14,.05],[-.21,.1],[-.26,.085],[-.29,.075]];
const stars80 = [[-.41,.158],[-.24,.178],[-.23,.156],[-.37,.103],[-.33,.105],[-.3,.097],[-.36,.088],[-.27,.085],[-.26,.075],[-.22,.08],[-.19,.07],[-.14,.12],[-.15,.105],[-.12,.11],[-.09,.1],[-.16,.095],[-.05,.105],[-.13,.09],[-.1,.085],[-.04,.085],[-.07,.09],[-.18,.082],[-.13,.073],[-.08,.075],[-.02,.08],[-.14,.05],[-.12,.048],[-.1,.055],[-.07,.05],[-.15,.04],[-.12,.035],[-.09,.04],[-.05,.045],[-.02,.055],[.02,.05],[-.13,.028],[-.1,.025],[-.06,.03],[-.03,.035],[0,.04],[.03,.04],[-.16,.03],[-.08,.025],[-.04,.022],[-.01,.025],[.02,.028],[.04,.02],[0,.012],[-.02,.01],[.03,.008],[.13,.008],[.11,.012],[.14,.0],[.22,.052],[-.06,.06],[-.11,.06],[-.16,.055],[.01,.06],[-.09,.03],[-.03,.012],[.01,-.008],[.04,.005],[-.07,.04],[-.04,.055],[0,.03],[.02,.015],[-.12,.04],[-.08,.052],[-.14,.035],[-.1,.042],[-.05,.018],[-.01,.048],[.03,.03],[-.17,.042],[-.11,.02],[-.02,-.003],[.05,.012],[.09,.012],[-.06,.07],[-.03,.07]];
const stars476 = [[-.37,.25],[-.12,.155],[-.48,.15],[-.37,.145],[-.55,.125],[-.53,.125],[-.51,.125],[-.53,.115],[-.5,.115],[-.48,.12],[-.44,.125],[-.41,.12],[-.31,.12],[-.25,.115],[-.27,.105],[-.3,.11],[-.36,.11],[-.4,.105],[-.46,.105],[-.5,.1],[-.44,.095],[-.4,.095],[-.35,.095],[-.31,.095],[-.26,.095],[-.21,.095],[-.13,.1],[-.47,.085],[-.41,.085],[-.36,.085],[-.32,.085],[-.28,.085],[-.23,.085],[-.18,.08],[-.42,.075],[-.38,.075],[-.34,.075],[-.3,.075],[-.26,.075],[-.22,.075],[-.16,.075],[-.1,.072],[-.06,.07],[-.39,.065],[-.35,.065],[-.31,.065],[-.27,.065],[-.23,.065],[-.19,.065],[-.14,.065],[-.09,.062],[-.04,.06],[-.38,.055],[-.33,.055],[-.29,.055],[-.25,.055],[-.21,.055],[-.17,.055],[-.13,.055],[-.08,.052],[-.02,.05],[-.31,.045],[-.27,.045],[-.23,.045],[-.19,.045],[-.15,.045],[-.11,.045],[-.07,.045],[-.03,.042],[.02,.04],[-.26,.035],[-.22,.035],[-.18,.035],[-.14,.035],[-.1,.035],[-.06,.035],[-.02,.035],[.02,.03],[.06,.028],[-.22,.026],[-.17,.026],[-.13,.026],[-.09,.026],[-.05,.026],[-.01,.026],[.03,.022],[.07,.02],[-.19,.016],[-.15,.016],[-.11,.016],[-.07,.016],[-.03,.016],[.01,.016],[.05,.014],[.09,.012],[.13,.012],[.19,.02],[-.14,.007],[-.1,.007],[-.06,.007],[-.02,.007],[.02,.007],[.06,.006],[.1,.004],[.14,.003],[-.11,-.002],[-.07,-.002],[-.03,-.002],[.01,-.002],[.05,-.002],[.09,-.004],[.13,-.004],[.17,-.002],[-.09,-.01],[-.05,-.01],[-.01,-.01],[.03,-.01],[.07,-.01],[.11,-.012],[.15,-.012],[-.58,.006],[-.06,-.018],[-.02,-.018],[.02,-.018],[.06,-.018],[.1,-.02],[-.03,-.027],[.01,-.027],[.05,-.026],[.09,-.028],[.28,-.015],[.2,-.012],[-.02,-.034],[.03,-.034],[-.22,-.04],[-.28,-.042],[.16,-.02],[-.2,.02],[-.16,.062],[-.29,.1],[-.24,.105],[-.34,.105],[-.15,.105],[-.2,.1],[-.12,.085],[-.08,.08],[-.28,.07],[-.24,.06],[-.12,.05],[-.04,.05],[0,.055],[.03,.052],[-.16,.03],[-.08,.02],[-.04,.01],[.04,.01],[.08,.005],[-.12,.01],[-.16,.006],[-.08,.002],[.03,.002],[.07,-.004],[0,.002],[-.02,.022],[.02,.022],[-.06,.03],[-.1,.03],[-.14,.02],[-.18,.045],[-.22,.05],[-.26,.05],[.15,.008],[.12,-.006],[.08,-.014],[.04,-.022],[0,-.024],[-.04,-.022]];
const stars476More = [[-.07,.052],[-.03,.03],[.01,.034],[.04,.036],[-.05,.018],[-.09,.01],[-.12,.038],[-.16,.042],[-.2,.03],[-.24,.042],[-.12,.022],[-.07,.008],[-.035,.008],[.012,.01],[.035,.018],[.07,.013],[.11,.018],[-.045,-.006],[-.015,-.004],[.02,-.006],[.055,-.006],[.085,-.009],[.12,-.017],[-.075,-.014],[-.035,-.014],[.005,-.014],[.04,-.015],[.075,-.02],[-.015,-.024],[.025,-.024],[.06,-.027],[-.34,.06],[-.29,.05],[-.37,.08],[-.43,.088],[-.49,.108],[-.52,.105],[-.46,.118],[-.41,.095],[-.33,.085],[-.24,.072],[-.19,.052],[-.15,.038],[-.11,.062],[-.07,.062],[-.02,.042],[.05,.03],[.09,.02],[.14,.015],[.17,.008],[-.13,.075],[-.2,.07],[-.27,.085],[-.35,.07],[-.095,.04],[-.05,.04],[.02,.045],[-.01,.015],[-.13,.013],[-.17,.012],[.1,-.008],[.135,-.012]];
const stars444 = [[-1.04,.235],[-.8,.21],[-.81,.197],[-.69,.18],[-.7,.17],[-.6,.187],[-.53,.16],[-.49,.165],[-.45,.158],[-.52,.148],[-.42,.155],[-.29,.15],[-.27,.15],[-.31,.14],[-.33,.13],[-.37,.13],[-.43,.14],[-.46,.11],[-.4,.11],[-.28,.105],[-.28,.09],[-.3,.08],[-.55,.073],[-.56,.072],[-.44,.07],[-.4,.065],[-.35,.06],[-.52,.05],[-.26,.06],[-.2,.065],[-.24,.065],[-.3,.055],[-.35,.048],[-.31,.04],[-.26,.045],[-.22,.05],[-.15,.055],[-.3,.03],[-.25,.03],[-.2,.035],[-.16,.035],[-.12,.04],[-.06,.025],[-.28,.022],[-.23,.02],[-.19,.025],[-.15,.025],[-.11,.028],[-.07,.03],[-.03,.035],[.01,.03],[-.22,.012],[-.18,.014],[-.14,.015],[-.1,.018],[-.06,.016],[-.02,.02],[.02,.02],[.05,.022],[-.16,.005],[-.12,.006],[-.08,.007],[-.04,.008],[0,.01],[.04,.01],[.08,.012],[.12,.008],[-.13,-.002],[-.09,-.001],[-.05,0],[-.01,0],[.03,0],[.07,.002],[.11,0],[.15,.002],[.19,.002],[-.07,-.008],[-.03,-.008],[.01,-.008],[.05,-.008],[.09,-.007],[.13,-.007],[.17,-.006],[.21,-.005],[.25,-.01],[-.04,-.016],[0,-.016],[.04,-.016],[.08,-.015],[.12,-.015],[.16,-.014],[.2,-.014],[.24,-.015],[.29,-.02],[.01,-.024],[.05,-.024],[.09,-.023],[.13,-.022],[.17,-.022],[.21,-.022],[.27,-.03],[.02,-.032],[.06,-.032],[.1,-.032],[.14,-.03],[.18,-.03],[.23,-.028],[-.2,-.03],[-.07,-.03],[-.2,-.058],[-.21,-.06],[-.04,-.035],[.08,-.04],[.14,-.04],[.19,-.038],[.33,-.025],[.34,-.03],[-.24,.09],[-.34,.08],[-.29,.07],[-.2,.052],[-.1,.05],[-.08,.042],[-.04,.045],[-.18,.045],[-.14,.045],[-.1,.01],[-.06,.005],[-.02,.006],[.02,.006],[.06,.006],[.1,.006],[.14,-.003],[.18,-.012],[.22,-.014],[.08,-.025],[.12,-.027],[.16,-.026],[0,-.004],[.04,-.004],[.08,-.002],[.12,-.002],[-.02,-.012],[.02,-.012],[.06,-.012],[.1,-.012],[.14,-.012],[-.16,.02],[-.12,.022],[-.08,.022],[-.04,.024],[.03,.015],[.07,.015],[.1,-.018],[.15,-.018],[.19,-.018],[-.02,.014],[.02,.003],[-.26,.12],[-.35,.12],[-.24,.16],[-.25,.142],[-.28,.12],[-.23,.128]];
const stars1170 = [[-1.11,.307],[-1.01,.28],[-.92,.26],[-.88,.255],[-.46,.28],[-.92,.235],[-.87,.235],[-.81,.205],[-1.15,.21],[-.8,.24],[-.72,.245],[-.68,.248],[-.65,.25],[-.63,.245],[-.71,.235],[-.67,.235],[-.62,.235],[-.58,.25],[-.53,.24],[-.5,.24],[-.47,.25],[-.74,.22],[-.7,.225],[-.66,.225],[-.61,.225],[-.56,.225],[-.5,.228],[-.46,.22],[-.73,.205],[-.68,.21],[-.63,.21],[-.58,.212],[-.54,.215],[-.49,.212],[-.44,.205],[-.75,.19],[-.7,.195],[-.65,.195],[-.6,.2],[-.55,.198],[-.5,.2],[-.45,.195],[-.4,.2],[-.72,.18],[-.67,.182],[-.62,.185],[-.57,.185],[-.52,.185],[-.47,.185],[-.42,.185],[-.36,.185],[-.6,.172],[-.55,.172],[-.5,.172],[-.45,.172],[-.4,.172],[-.35,.172],[-.58,.16],[-.53,.16],[-.48,.16],[-.43,.16],[-.38,.16],[-.33,.16],[-.29,.158],[-.55,.148],[-.5,.148],[-.45,.148],[-.4,.148],[-.35,.148],[-.3,.148],[-.25,.145],[-.53,.136],[-.48,.136],[-.43,.136],[-.38,.136],[-.33,.136],[-.28,.136],[-.23,.135],[-.52,.124],[-.47,.124],[-.42,.124],[-.37,.124],[-.32,.124],[-.27,.124],[-.22,.124],[-.17,.125],[-.51,.112],[-.46,.112],[-.41,.112],[-.36,.112],[-.31,.112],[-.26,.112],[-.21,.112],[-.16,.112],[-.11,.11],[-.49,.1],[-.44,.1],[-.39,.1],[-.34,.1],[-.29,.1],[-.24,.1],[-.19,.1],[-.14,.1],[-.09,.1],[-.04,.098],[-.47,.09],[-.42,.09],[-.37,.09],[-.32,.09],[-.27,.09],[-.22,.09],[-.17,.09],[-.12,.09],[-.07,.09],[-.02,.088],[-.44,.08],[-.39,.08],[-.34,.08],[-.29,.08],[-.24,.08],[-.19,.08],[-.14,.08],[-.09,.08],[-.04,.08],[.01,.078],[.07,.08],[-.46,.07],[-.37,.07],[-.32,.07],[-.27,.07],[-.22,.07],[-.17,.07],[-.12,.07],[-.07,.07],[-.02,.07],[.03,.068],[.09,.066],[-.42,.06],[-.35,.06],[-.3,.06],[-.25,.06],[-.2,.06],[-.15,.06],[-.1,.06],[-.05,.06],[0,.06],[.05,.06],[.11,.055],[-.33,.05],[-.28,.05],[-.23,.05],[-.18,.05],[-.13,.05],[-.08,.05],[-.03,.05],[.02,.05],[.07,.05],[.12,.05],[.17,.048],[-.3,.04],[-.25,.04],[-.2,.04],[-.15,.04],[-.1,.04],[-.05,.04],[0,.04],[.05,.04],[.1,.04],[.15,.04],[.2,.04],[-.22,.03],[-.17,.03],[-.12,.03],[-.07,.03],[-.02,.03],[.03,.03],[.08,.03],[.13,.03],[.18,.03],[.23,.03],[.28,.032],[-.2,.02],[-.15,.02],[-.1,.02],[-.05,.02],[0,.02],[.05,.02],[.1,.02],[.15,.02],[.2,.02],[.25,.02],[.3,.02],[.34,.022],[-.13,.01],[-.08,.01],[-.03,.01],[.02,.01],[.07,.01],[.12,.01],[.17,.01],[.22,.01],[.27,.01],[.32,.01],[.37,.012],[.42,.008],[-.07,0],[-.02,0],[.03,0],[.08,0],[.13,0],[.18,0],[.23,0],[.28,0],[.33,0],[.38,0],[.43,0],[.47,0],[-.02,-.01],[.03,-.01],[.08,-.01],[.13,-.01],[.18,-.01],[.23,-.01],[.28,-.01],[.33,-.01],[.38,-.012],[.45,-.01],[.05,-.02],[.12,-.02],[.2,-.02],[.27,-.018],[.32,-.02],[.42,-.02],[-.11,-.01],[-.16,.005],[-.23,.01],[-.3,.025],[-.35,.03],[-.38,.05],[-.41,.045],[-.28,.02],[-.25,.015],[-.18,.012],[-.12,.016],[-.06,.008],[0,.006],[.05,.006],[.1,.006],[.15,.005],[.2,.005],[.25,.005],[.3,.005],[.35,.005],[-.06,.025],[0,.025],[.06,.025],[.12,.024],[.16,.015],[.22,.016],[.27,.015],[-.15,.035],[-.09,.035],[-.03,.035],[.03,.036],[.09,.035],[-.2,.05],[-.14,.055],[-.08,.055],[-.02,.055],[-.24,.065],[-.18,.065],[-.12,.065],[-.06,.065],[-.28,.075],[-.22,.075],[-.16,.075],[-.1,.075],[-.31,.085],[-.25,.085],[-.19,.085],[-.13,.085],[-.33,.095],[-.27,.095],[-.21,.095],[-.35,.105],[-.29,.105],[-.23,.105],[-.37,.118],[-.3,.118],[-.24,.118],[-.4,.13],[-.34,.13],[-.27,.13],[-.42,.142],[-.36,.142],[-.3,.142],[-.45,.155],[-.39,.155],[-.33,.155],[-.47,.166],[-.41,.166],[-.54,.178],[-.48,.178],[-.43,.178],[-.59,.192],[-.53,.192],[-.47,.192],[-.6,.208],[-.55,.205],[-.65,.215],[-.64,.24]];
const stars1170More = [[-.612,.243],[-.68,.222],[-.645,.238],[-.59,.238],[-.61,.198],[-.575,.173],[-.523,.207],[-.488,.19],[-.437,.167],[-.377,.178],[-.515,.164],[-.463,.139],[-.41,.153],[-.355,.134],[-.305,.131],[-.258,.138],[-.497,.129],[-.445,.117],[-.392,.129],[-.34,.117],[-.285,.113],[-.233,.108],[-.18,.106],[-.135,.093],[-.483,.093],[-.427,.104],[-.375,.094],[-.325,.084],[-.265,.101],[-.208,.083],[-.155,.095],[-.105,.085],[-.055,.084],[-.41,.075],[-.355,.072],[-.305,.074],[-.255,.067],[-.205,.073],[-.153,.066],[-.088,.068],[-.035,.074],[.015,.066],[-.385,.063],[-.325,.057],[-.275,.056],[-.225,.056],[-.172,.057],[-.122,.056],[-.072,.056],[-.02,.062],[.03,.055],[.08,.057],[-.31,.045],[-.262,.046],[-.212,.045],[-.165,.046],[-.112,.046],[-.062,.046],[-.012,.046],[.04,.046],[.09,.045],[.14,.045],[-.275,.036],[-.228,.035],[-.175,.036],[-.125,.036],[-.075,.036],[-.022,.035],[.025,.036],[.075,.036],[.125,.035],[.175,.035],[.225,.035],[-.235,.025],[-.185,.025],[-.135,.025],[-.085,.025],[-.035,.025],[.015,.025],[.07,.025],[.105,.027],[.165,.026],[.21,.026],[.26,.026],[.31,.026],[-.17,.015],[-.105,.014],[-.055,.015],[-.012,.015],[.035,.015],[.085,.015],[.135,.015],[.185,.015],[.235,.015],[.29,.015],[.34,.014],[.395,.016],[-.14,.006],[-.09,.004],[-.04,.005],[.015,.004],[.07,.004],[.12,.004],[.17,.004],[.225,.004],[.275,.004],[.325,.005],[.375,.005],[.42,.003],[-.05,-.005],[.005,-.005],[.055,-.005],[.105,-.005],[.155,-.005],[.205,-.005],[.255,-.005],[.305,-.005],[.355,-.006],[.4,-.006],[.46,-.005],[.03,-.016],[.09,-.015],[.16,-.014],[.235,-.015],[.3,-.015],[.37,-.017],[.17,-.025],[.25,-.024],[.36,-.024],[-.34,.045],[-.37,.065],[-.4,.085],[-.43,.095],[-.45,.128],[-.56,.16],[-.54,.14]];
const stars1170All = stars1170.concat(stars1170More);

const hrBands = [{name:'teff-lt-4500',lo:0,hi:4500},{name:'teff-4500-5000',lo:4500,hi:5000},{name:'teff-5000-5500',lo:5000,hi:5500},{name:'teff-5500-6000',lo:5500,hi:6000},{name:'teff-6000-6500',lo:6000,hi:6500},{name:'teff-6500-7000',lo:6500,hi:7000},{name:'teff-gt-7000',lo:7000,hi:9000}];
const gridPanels = [
 {label:'1',col:0,row:4,stars:[[-.08,.042]],teffBand:6,gravity:4},
 {label:'80',col:1,row:4,stars:stars80,teffBand:5,gravity:4},
 {label:'476',col:2,row:4,stars:stars476.concat(stars476More),teffBand:4,gravity:4},
 {label:'444',col:3,row:4,stars:stars444,teffBand:3,gravity:4},
 {label:'138',col:4,row:4,stars:[[-.67,.143],[-.52,.128],[-.48,.135],[-.29,.098],[-.21,.1],[-.33,.073],[-.12,.055],[.07,.03],[-.43,.023],[-.29,.025],[-.27,.03],[-.25,.025],[-.24,.02],[-.22,.03],[-.3,.015],[-.27,.015],[-.23,.012],[-.2,.018],[-.18,.025],[-.15,.02],[-.12,.03],[-.25,.005],[-.2,.005],[-.17,.01],[-.14,.008],[-.1,.015],[-.07,.012],[-.04,.018],[0,.012],[.03,.01],[.07,.012],[-.15,-.002],[-.11,0],[-.08,.003],[-.05,0],[-.02,.004],[.02,.002],[.06,-.002],[.1,-.003],[.14,0],[.3,0],[-.22,-.022],[-.12,-.008],[-.09,-.01],[-.06,-.008],[-.03,-.006],[.01,-.008],[.05,-.01],[.09,-.012],[.13,-.01],[.17,-.008],[.21,-.006],[-.1,-.018],[-.07,-.016],[-.04,-.016],[0,-.016],[.04,-.018],[.08,-.018],[.12,-.018],[.16,-.018],[.2,-.018],[.24,-.016],[-.08,-.026],[-.04,-.025],[0,-.025],[.04,-.026],[.08,-.026],[.12,-.026],[.16,-.028],[.26,-.022],[-.02,-.035],[.02,-.035],[.06,-.035],[.1,-.034],[.2,-.03],[.25,-.03],[.26,-.058],[.32,-.032],[-.19,.012],[-.16,.03],[-.13,.02],[-.1,.005],[-.05,.012],[.01,.02],[.04,0],[.08,-.006],[.12,0],[.03,-.02],[.07,-.03],[.14,-.022],[-.02,-.01],[.11,-.005],[.16,-.006]],teffBand:2,gravity:4},
 {label:'59',col:5,row:4,stars:[[-.49,.14],[-.47,.155],[-.5,.113],[-.27,.095],[-.25,.097],[-.41,.06],[-.46,.048],[-.15,.065],[-.24,.028],[-.08,.038],[-.15,.01],[-.14,.008],[-.12,.002],[-.1,.012],[-.08,.004],[-.06,-.002],[-.04,.002],[-.02,.006],[0,.002],[-.14,-.006],[-.1,-.006],[-.06,-.008],[-.03,-.006],[.02,-.004],[.05,-.002],[-.06,-.016],[-.02,-.014],[.01,-.012],[.04,-.012],[.07,-.008],[.1,-.012],[.13,-.012],[.16,-.014],[-.03,-.022],[.02,-.02],[.06,-.02],[.09,-.018],[.12,-.02],[.16,-.028],[.2,-.024],[.22,-.03],[.19,-.04],[.24,-.05],[.27,-.052],[.26,-.062],[-.21,-.042],[-.13,-.04],[-.1,-.032],[-.05,-.03],[0,-.028],[.04,-.028],[.08,-.024],[.11,-.026],[-.08,-.012],[-.04,-.012],[0,-.008],[.14,-.02],[.18,-.03],[-.18,.004]],teffBand:1,gravity:4},
 {label:'56',col:6,row:4,stars:[[-.52,.12],[-.43,.078],[-.34,.098],[-.3,.027],[-.28,.03],[-.26,.032],[-.19,.015],[-.16,.012],[-.13,.02],[-.08,.012],[-.29,.005],[-.31,-.01],[-.33,-.005],[-.29,-.012],[-.26,-.012],[-.23,-.008],[-.17,-.002],[-.13,-.005],[-.08,-.002],[-.05,0],[-.03,0],[-.2,-.02],[-.1,-.015],[-.05,-.018],[-.01,-.015],[.05,-.018],[.13,-.025],[.29,-.03],[-.12,-.025],[-.08,-.03],[-.04,-.028],[0,-.03],[.04,-.028],[.07,-.035],[-.1,-.038],[-.06,-.035],[-.03,-.04],[.01,-.038],[.05,-.04],[.09,-.045],[-.1,-.055],[-.05,-.05],[-.01,-.048],[.03,-.05],[.08,-.055],[.12,-.058],[.05,-.06],[.11,-.075],[-.11,-.06],[-.02,-.06],[.02,-.03],[-.16,-.025],[-.2,-.005],[-.11,-.045],[-.04,-.02],[.06,-.025]],teffBand:0,gravity:4},
 {label:'2',col:0,row:3,stars:stars2,teffBand:6,gravity:3},
 {label:'27',col:1,row:3,stars:stars27,teffBand:5,gravity:3},
 {label:'119',col:2,row:3,stars:stars119,teffBand:4,gravity:3},
 {label:'56',col:3,row:3,stars:stars56b,teffBand:3,gravity:3},
 {label:'145',col:4,row:3,stars:stars145,teffBand:2,gravity:3},
 {label:'174',col:5,row:3,stars:stars174,teffBand:1,gravity:3},
 {label:'1',col:3,row:2,stars:[[-1.39,.30]],teffBand:3,gravity:2},
 {label:'48',col:4,row:2,stars:stars48,teffBand:2,gravity:2},
 {label:'1170',col:5,row:2,stars:stars1170All,teffBand:1,gravity:2},
 {label:'97',col:6,row:2,stars:stars97,teffBand:0,gravity:2},
 {label:'1',col:4,row:1,stars:[[-1.68,.335]],teffBand:2,gravity:1},
 {label:'29',col:5,row:1,stars:stars29,teffBand:1,gravity:1},
 {label:'475',col:6,row:1,stars:stars475,teffBand:0,gravity:1,selected:true},
 {label:'71',col:6,row:0,stars:stars71,teffBand:0,gravity:0}
];
const metalTicks = [-2,-1.5,-1,-0.5,0];
const mainMetalTicks = [-2,-1.5,-1,-0.5,0,0.5];
const alphaTicks = [-0.1,0,0.1,0.2,0.3];
const mainAlphaTicks = [-0.1,0,0.1,0.2,0.3,0.4];
const teffTicks = [7000,6000,5000,4000];
const teffGuides = [7000,6500,6000,5500,5000,4500];
const gravityTicks = [0,1,2,3,4,5];
const gravityGuides = [1,2,3,4];

const SVGNS = 'http://www.w3.org/2000/svg';
const root = document.getElementById('figure');
const BLUE = '#1f77b4', RED = '#ff0000', GREY = '#d9dcd6', SPINE = '#6e6e6e', INK = '#1a1a1a';

function make(parent, tag, attrs, txt) {
  const e = document.createElementNS(SVGNS, tag);
  for (const k in attrs) e.setAttribute(k, attrs[k]);
  if (txt !== undefined) e.textContent = txt;
  parent.appendChild(e);
  return e;
}
function scale(d0, d1, r0, r1) { return v => r0 + (v - d0) * (r1 - r0) / (d1 - d0); }
function fmt(v, digits) { return v.toFixed(digits).replace('-', '\u2212'); }

function frame(parent, x, y, w, h, fill, name) {
  const r = make(parent, 'rect', {x:x, y:y, width:w, height:h, fill:fill, stroke:SPINE, 'stroke-width':1.3});
  
  
}
function tickX(parent, px, y0, len) {
  const t = make(parent, 'line', {x1:px, x2:px, y1:y0, y2:y0 + len, stroke:'#444', 'stroke-width':0.9});
  
  
}
function tickY(parent, py, x0, len) {
  const t = make(parent, 'line', {y1:py, y2:py, x1:x0, x2:x0 - len, stroke:'#444', 'stroke-width':0.9});
  
  
}
function label(parent, x, y, str, size, anchor, name, rotate) {
  const attrs = {x:x, y:y, 'font-size':size, fill:INK, 'text-anchor':anchor || 'middle'};
  if (rotate) attrs.transform = 'rotate(-90 ' + x + ' ' + y + ')';
  const t = make(parent, 'text', attrs, str);
  
  
}
function guide(parent, x1, y1, x2, y2, width, dash, name) {
  const l = make(parent, 'line', {x1:x1, y1:y1, x2:x2, y2:y2, stroke:'#222', 'stroke-width':width, 'stroke-dasharray':dash});
  
  
}
function dots(parent, pts, xf, yf, r, color, name) {
  const g = make(parent, 'g', {fill:color});
  
  
  for (const p of pts) {
    const c = make(g, 'circle', {cx:xf(p[0]).toFixed(2), cy:yf(p[1]).toFixed(2), r:r});
    
    
  }
}

// ---- main [M/H] vs [alpha/M] panel ----
(function drawMain() {
  const L = 58, T = 5, W = 456, H = 356;
  const g = make(root, 'g', {});
  
  
  const xf = scale(-2, 0.6, L, L + W), yf = scale(-0.1, 0.4, T + H, T);
  frame(g, L, T, W, H, GREY, 'selected-bin-background');
  dots(g, stars475, xf, yf, 2.8, RED, 'selected-bin-star');
  guide(g, xf(0), yf(-0.1), xf(0), yf(0.4), 1.1, '4 2', 'solar-metallicity-guide');
  guide(g, xf(-0.5), yf(0), xf(0.6), yf(0), 1.1, '4 2', 'solar-alpha-guide');
  mainMetalTicks.forEach(v => { tickX(g, xf(v), T + H, 4); label(g, xf(v), T + H + 20, fmt(v, 1), 15, 'middle', 'x-tick-label'); });
  mainAlphaTicks.forEach(v => { tickY(g, yf(v), L, 4); label(g, L - 6, yf(v) + 5.5, fmt(v, 1), 15, 'end', 'y-tick-label'); });
  label(g, xf(0.153), yf(0.35), '475', 14, 'start', 'selected-bin-count');
  label(g, 287, 392, '[M/H]', 14, 'middle', 'x-axis-title');
  label(g, 15, 183, '[\u03B1/M]', 14, 'middle', 'y-axis-title', true);
})();

// ---- Teff / log(g) panel ----
(function drawHR() {
  const L = 579, T = 18, W = 244, H = 190;
  const g = make(root, 'g', {});
  
  
  const xf = scale(7500, 3200, L, L + W), yf = scale(0, 5.2, T, T + H);
  frame(g, L, T, W, H, GREY, 'teff-logg-background');
  teffGuides.forEach(v => guide(g, xf(v), yf(0), xf(v), yf(5), 1, '3.5 2', 'teff-guide'));
  gravityGuides.forEach(v => guide(g, xf(7500), yf(v), xf(3200), yf(v), 1, '3.5 2', 'gravity-guide'));
  const isPicked = p => p[0] < 4500 && p[1] >= 1 && p[1] < 2;
  dots(g, hrSample.filter(p => !isPicked(p)), xf, yf, 1.05, BLUE, 'hr-star');
  dots(g, hrSample.filter(isPicked), xf, yf, 1.05, RED, 'hr-selected-star');
  teffTicks.forEach(v => { tickX(g, xf(v), T + H, 3); label(g, xf(v), T + H + 15, String(v), 11.5, 'middle', 'teff-tick-label'); });
  gravityTicks.forEach(v => { tickY(g, yf(v), L, 3); label(g, L - 5, yf(v) + 4, String(v), 11.5, 'end', 'gravity-tick-label'); });
  label(g, 702, 235, 'Teff (K)', 12, 'middle', 'teff-axis-title');
  label(g, 559, 110, 'log(g)', 12, 'middle', 'gravity-axis-title', true);
})();

// ---- grid of small panels ----
const colLeft = c => 58 + c * 162.86;
const rowTop = r => 133 + r * 126.8;
function drawPanel(p) {
  const L = colLeft(p.col), T = rowTop(p.row), W = 162.86, H = 126.8;
  const g = make(root, 'g', {});
  
  
  const xf = scale(-2, 0.6, L, L + W), yf = scale(-0.1, 0.4, T + H, T);
  frame(g, L, T, W, H, p.selected ? GREY : '#ffffff', 'bin-panel-background');
  // Miniature Teff / log(g) diagram placed in the lower-left corner of every panel.
  const miniX = t => xf(-1.76 + (6250 - t) * 0.000205);
  const miniY = lg => yf(0.0715 - 0.033 * lg);
  const band = hrBands[p.teffBand];
  const inBin = s => s[0] >= band.lo && s[0] < band.hi && s[1] >= p.gravity && s[1] < p.gravity + 1;
  dots(g, hrSample.filter(s => !inBin(s)), miniX, miniY, 1.1, BLUE, 'mini-hr-star');
  dots(g, hrSample.filter(inBin), miniX, miniY, 1.1, RED, 'mini-hr-bin-star');
  dots(g, p.stars, xf, yf, 1.2, RED, 'bin-star');
  guide(g, xf(0), yf(-0.1), xf(0), yf(0.3), 1.1, '3 1.6', 'solar-metallicity-guide');
  guide(g, xf(-0.5), yf(0), xf(0.5), yf(0), 1.1, '3 1.6', 'solar-alpha-guide');
  metalTicks.forEach(v => {
    tickX(g, xf(v), T + H, 2.5);
    if (p.row === 4) label(g, xf(v), T + H + 12.5, fmt(v, 1), 10.3, 'middle', 'x-tick-label');
  });
  alphaTicks.forEach(v => {
    tickY(g, yf(v), L, 2.5);
    if (p.col === 0) label(g, L - 5, yf(v) + 3.6, fmt(v, 1), 10.3, 'end', 'y-tick-label');
  });
  label(g, xf(-0.1), yf(0.35), p.label, 10.2, 'start', 'bin-count');
  if (p.row === 4) label(g, L + 81.5, T + H + 23.5, '[M/H]', 11.5, 'middle', 'x-axis-title');
  if (p.col === 0) label(g, 26, T + H / 2 + 13, '[\u03B1/M]', 11.5, 'middle', 'y-axis-title', true);
}
gridPanels.forEach(drawPanel);
</script>
</body>
</html>
